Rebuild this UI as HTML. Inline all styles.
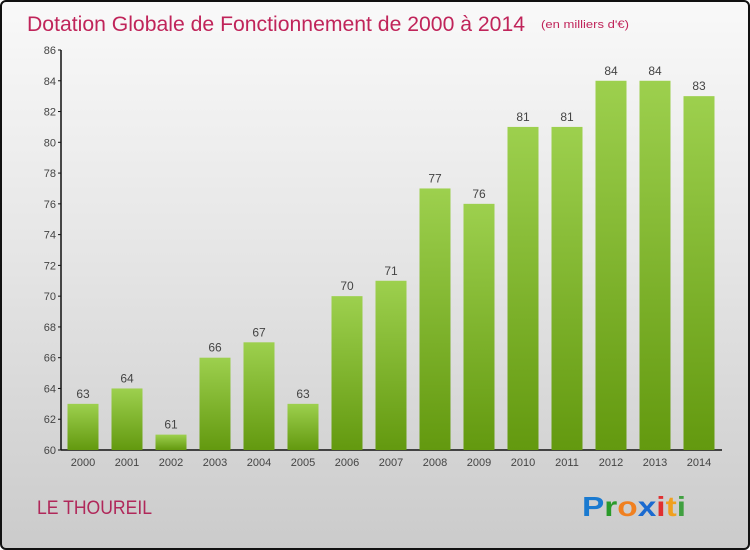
<!DOCTYPE html>
<html><head><meta charset="utf-8"><style>
html,body{margin:0;padding:0}
body{width:750px;height:550px;overflow:hidden;font-family:"Liberation Sans",sans-serif}
#frame{position:absolute;left:0;top:0;width:746px;height:546px;border:2px solid #111;border-radius:6px;background:linear-gradient(#f9f9f9,#e6e6e6 45%,#cbcbcb)}
</style></head><body>
<div id="frame"></div>
<svg id="chart" width="750" height="550" style="position:absolute;left:0;top:0">
<defs><linearGradient id="bg" x1="0" y1="0" x2="0" y2="1"><stop offset="0" stop-color="#9dd04e"/><stop offset="1" stop-color="#63990f"/></linearGradient></defs>
<text x="27" y="31" font-size="21" fill="#c0245a" textLength="498" lengthAdjust="spacingAndGlyphs">Dotation Globale de Fonctionnement de 2000 à 2014</text>
<text x="541" y="28" font-size="11" fill="#c0245a" textLength="88" lengthAdjust="spacingAndGlyphs">(en milliers d'€)</text>
<text x="37" y="514" font-size="19" fill="#b0285a" textLength="115" lengthAdjust="spacingAndGlyphs">LE THOUREIL</text>
<g font-size="28" font-weight="bold" font-family="'Liberation Sans',sans-serif">
<text x="582" y="516" textLength="104" lengthAdjust="spacingAndGlyphs"><tspan fill="#1a7ad0">P</tspan><tspan fill="#2a9a2a">r</tspan><tspan fill="#f08020">o</tspan><tspan fill="#1a6ad0">x</tspan><tspan fill="#e03030">i</tspan><tspan fill="#f0a020">t</tspan><tspan fill="#40a040">i</tspan></text></g>
<g id="axes"></g><g id="bars"></g>
</svg>
<script>
const years=["2000","2001","2002","2003","2004","2005","2006","2007","2008","2009","2010","2011","2012","2013","2014"];
const values=[63,64,61,66,67,63,70,71,77,76,81,81,84,84,83];
const yTicks=[60,62,64,66,68,70,72,74,76,78,80,82,84,86];
const NS="http://www.w3.org/2000/svg";
const y0=450,yTop=50,vMin=60,vMax=86;
const y=v=>y0-(v-vMin)/(vMax-vMin)*(y0-yTop);
const x=i=>83+i*44;
function mk(t,a,p){const e=document.createElementNS(NS,t);for(const k in a)e.setAttribute(k,a[k]);p.appendChild(e);return e;}
const ax=document.getElementById('axes'),bs=document.getElementById('bars');
const yl=mk('line',{x1:61,y1:yTop,x2:61,y2:y0,stroke:'#111','stroke-width':1.5},ax);


const xl=mk('line',{x1:61,y1:y0,x2:722,y2:y0,stroke:'#111','stroke-width':1.5},ax);


yTicks.forEach(v=>{
 mk('line',{x1:58,y1:y(v),x2:61,y2:y(v),stroke:'#111'},ax);
 const t=mk('text',{x:56,y:y(v)+4,'text-anchor':'end','font-size':11,fill:'#444'},ax);t.textContent=v;
 
 
});
years.forEach((yr,i)=>{
 const v=values[i];
 const r=mk('rect',{x:x(i)-15.5,y:y(v),width:31,height:y0-y(v),fill:'url(#bg)'},bs);
 
 
 const l=mk('text',{x:x(i),y:y(v)-6,'text-anchor':'middle','font-size':12,fill:'#444'},bs);l.textContent=v;
 
 
 const t=mk('text',{x:x(i),y:466,'text-anchor':'middle','font-size':11,fill:'#444'},ax);t.textContent=yr;
 
 
});
</script>
</body></html>
